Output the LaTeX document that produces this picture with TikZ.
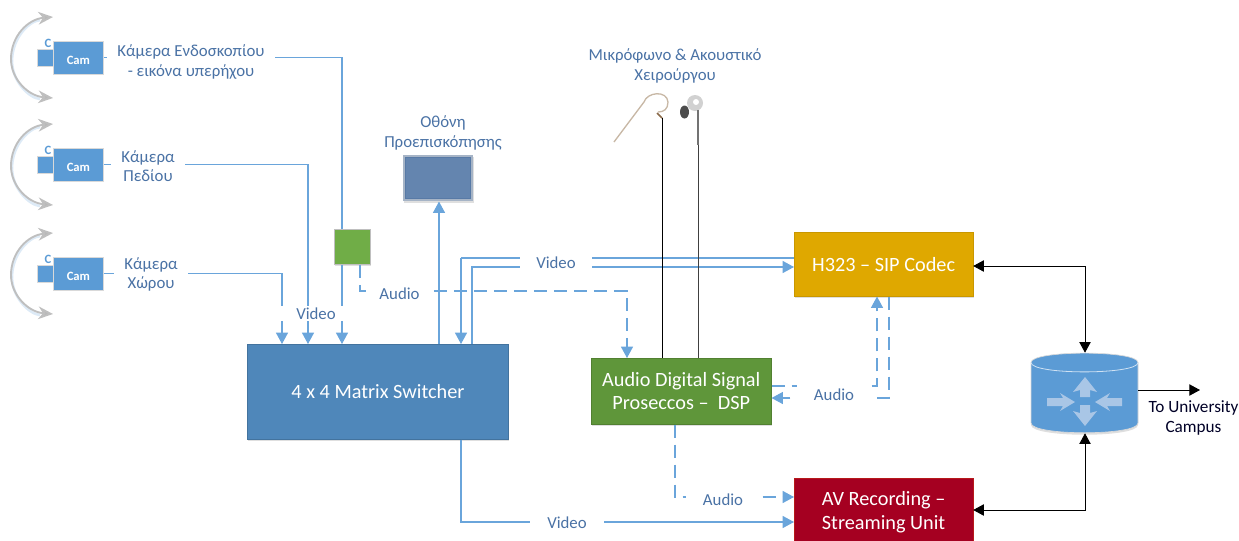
\documentclass[tikz,border=0pt]{standalone}
\usepackage{fontspec}
\setmainfont{Carlito}
\usetikzlibrary{arrows.meta,shapes.geometric,calc,shadows}
\definecolor{wire}{HTML}{6AA5DB}
\definecolor{wirelt}{HTML}{9DC3E6}
\definecolor{lbl}{HTML}{4A72A5}
\definecolor{matrixblue}{HTML}{4F87BA}
\definecolor{dspgreen}{HTML}{5F963A}
\definecolor{smallgreen}{HTML}{70AD47}
\definecolor{codecgold}{HTML}{DFA800}
\definecolor{avred}{HTML}{A50021}
\definecolor{monitorblue}{HTML}{6485AF}
\definecolor{monitoredge}{HTML}{587AA6}
\definecolor{monitorframe}{HTML}{A6B4C6}
\definecolor{routerblue}{HTML}{5B9BD5}
\definecolor{routerarrow}{HTML}{A9C6E6}
\definecolor{hooktan}{HTML}{C8B8A6}
\definecolor{hookbrown}{HTML}{8A6A4A}
\tikzset{
  x=0.75pt,y=-0.75pt,
  softshadow/.style={drop shadow={opacity=0.25,shadow xshift=0.6pt,shadow yshift=-1pt}},
  labplain/.style={font=\fontsize{12.6}{14.4}\selectfont,text=lbl,align=center,inner sep=0pt},
  lab/.style={labplain,fill=white},
  wirelabel/.style={labplain,fill=white},
  blockbox/.style={anchor=north west,inner sep=0pt,text=white,align=center,font=\fontsize{15.2}{17.5}\selectfont,minimum width=#1,softshadow},
  vid/.style={draw=wire,line width=0.8pt,-{Triangle[length=8.5pt,width=9pt]}},
  vidn/.style={draw=wire,line width=0.8pt},
  aud/.style={draw=wire,line width=0.8pt,dash pattern=on 10pt off 5pt,-{Triangle[length=8.5pt,width=9pt,sep=0pt]}},
  blk/.style={draw=black,line width=0.7pt,{Triangle[length=8pt,width=8.5pt]}-{Triangle[length=8pt,width=8.5pt]}},
  swing/.style={draw=black!25,line width=1.4pt,-{Stealth[length=11pt,width=9.5pt,inset=3.5pt,fill=black!28]}},
  swingglow/.style={draw=wirelt,line width=2pt,opacity=0.35},
  cambody/.style={draw=black!15,line width=0.6pt,fill=routerblue,inner sep=0pt,text=white,font=\fontsize{9.5}{10}\selectfont\bfseries,softshadow},
}
\begin{document}
\begin{tikzpicture}
\useasboundingbox (0,0) rectangle (1239,540);
% helper columns and rows
\foreach \v in {282,308,342,360,439,461,472,627,662,675,698,877,889,1085}{\coordinate (x\v) at (\v,0);}
\foreach \v in {57,165,272,258,267,291,386,398,497,522,266,510,390}{\coordinate (y\v) at (0,\v);}
% blocks
\node[draw=matrixblue!85!black,fill=matrixblue,blockbox=196pt,minimum height=71.25pt] (matrix) at (247,344) {4 x 4 Matrix Switcher};
\node[draw=dspgreen!85!black,fill=dspgreen,blockbox=135pt,minimum height=49.5pt] (dsp) at (591,358) {Audio Digital Signal\\Proseccos --\ \ DSP};
\node[draw=codecgold!90!black,fill=codecgold,blockbox=134pt,minimum height=48pt] (codec) at (794,232) {H323 -- SIP Codec};
\node[draw=avred!80!orange,fill=avred,blockbox=134pt,minimum height=51pt] (av) at (794,478) {AV Recording --\\Streaming Unit};
\node[draw=black!25,fill=smallgreen,anchor=north west,minimum width=27pt,minimum height=26.5pt,inner sep=0pt,softshadow] (sg) at (334,229) {};
\node[fill=monitorframe,anchor=north west,minimum width=52.5pt,minimum height=34.5pt,inner sep=0pt,softshadow] (monframe) at (403,155) {};
\node[draw=monitoredge,line width=0.8pt,fill=monitorblue,minimum width=49pt,minimum height=31pt,inner sep=0pt] (mon) at (monframe.center) {};
% cameras
\foreach \n/\y in {a/41,b/148,c/257}{
  \node[cambody,anchor=north west,minimum width=13pt,minimum height=12.5pt] (\n back) at (37,\y+8) {};
  \node[anchor=south,inner sep=0pt,text=routerblue,font=\fontsize{9.5}{10}\selectfont\bfseries] (\n C) at (48,\y+7) {C};
  \node[cambody,anchor=north west,minimum width=37.5pt,minimum height=24.5pt] (\n cam) at (53,\y) {\raisebox{-4.9pt}[0pt][0pt]{Cam}};
  \coordinate (\n t) at (53,\y-24);
  \coordinate (\n b) at (53,\y+57);
  \draw[swingglow] (12,\y+20) .. controls (12,\y-3) and (29,\y-20) .. (40,\y-21);
  \draw[swingglow] (12,\y+20) .. controls (12,\y+40) and (29,\y+57) .. (40,\y+58);
  \draw[swing] (11,\y+18) .. controls (11,\y-5) and (28,\y-22) .. (\n t);
  \draw[swing] (11,\y+18) .. controls (11,\y+38) and (28,\y+55) .. (\n b);
}
% router
\node[minimum width=80pt,minimum height=60pt,inner sep=0pt] (router) at (1084.5,393) {};
\path[fill=routerblue,draw=black!15,line width=0.5pt,drop shadow={opacity=0.25,shadow xshift=0pt,shadow yshift=-1.5pt}] (1031,362.5) .. controls (1031,350) and (1138,350) .. (1138,362.5) -- (1138,423) .. controls (1138,436) and (1031,436) .. (1031,423) -- cycle;
\draw[white!70!routerblue,line width=0.6pt] (1031,362.5) .. controls (1031,375) and (1138,375) .. (1138,362.5);
\fill[routerarrow] (1085,377) -- (1097,392) -- (1090,390) -- (1090,397) -- (1080,397) -- (1080,390) -- (1073,392) -- cycle;
\fill[routerarrow] (1085,426) -- (1097,411) -- (1090,413) -- (1090,405) -- (1080,405) -- (1080,413) -- (1073,411) -- cycle;
\fill[routerarrow] (1075,402) -- (1060,393) -- (1063,398) -- (1047,398) -- (1047,406) -- (1063,406) -- (1060,411) -- cycle;
\fill[routerarrow] (1095,402) -- (1110,393) -- (1107,398) -- (1122,398) -- (1122,406) -- (1107,406) -- (1110,411) -- cycle;
% camera wires
\draw[vid] (ccam.east) -- (ccam.east -| x282) -- (matrix.north -| x282);
\draw[vid] (bcam.east) -- (bcam.east -| x308) -- (matrix.north -| x308);
\draw[vidn] (acam.east) -- (acam.east -| x342) -- (sg.north -| x342);
\draw[vid] (sg.south -| x342) -- (matrix.north -| x342);
\node[wirelabel,minimum width=56pt,minimum height=11pt] (vlab) at (316,313.5) {Video};
\node[lab,minimum width=126pt] (lcam1) at (191,62) {Κάμερα Ενδοσκοπίου\\- εικόνα υπερήχου};
\node[lab,minimum width=55pt] (lcam2) at (148,166) {Κάμερα\\Πεδίου};
\node[lab,minimum width=55pt] (lcam3) at (151,274.5) {Κάμερα\\Χώρου};
% monitor
\draw[vid] (matrix.north -| x439) -- (monframe.south -| x439);
\node[labplain,font=\fontsize{12.6}{15.5}\selectfont] (lmon) at (443,133) {Οθόνη\\Προεπισκόπησης};
\node[labplain,font=\fontsize{12.6}{15}\selectfont] (lmic) at (675,66) {Μικρόφωνο \& Ακουστικό\\Χειρούργου};
% codec video
\draw[vid,-] (codec.west |- y258) -- (x461 |- y258);
\draw[vid] (x461 |- y258) -- (matrix.north -| x461);
\draw[vid] (matrix.north -| x472) -- (x472 |- y267) -- (codec.west |- y267);
\node[wirelabel,minimum width=54pt,minimum height=18pt] (lv2) at (556,263) {Video};
% audio small green to DSP
\draw[aud] (sg.south -| x360) -- (x360 |- y291) -- (x627 |- y291) -- (dsp.north -| x627);
\node[wirelabel,minimum width=50pt,minimum height=16pt] (la1) at (399.5,294) {Audio};
% DSP codec
\draw[aud] (dsp.east |- y386) -- (x877 |- y386) -- (codec.south -| x877);
\draw[aud] (codec.south -| x889) -- (x889 |- y398) -- (dsp.east |- y398);
\node[wirelabel,minimum width=55pt,minimum height=26pt] (la2) at (834,395) {Audio};
% DSP AV
\draw[aud] (dsp.south -| x675) -- (x675 |- y497) -- (av.west |- y497);
\node[wirelabel,minimum width=55pt,minimum height=15pt] (la3) at (723,500) {Audio};
% matrix AV
\draw[vid] (matrix.south -| x461) -- (x461 |- y522) -- (av.west |- y522);
\node[wirelabel,minimum width=55pt,minimum height=14pt] (lv3) at (567,523) {Video};
% black
\draw[blk] (codec.east |- y266) -- (x1085 |- y266) -- (router.north -| x1085);
\draw[blk] (router.south -| x1085) -- (x1085 |- y510) -- (av.east |- y510);
\coordinate (out) at (1200,390);
\draw[draw=black,line width=0.7pt,-{Triangle[length=8pt,width=8.5pt]}] (router.east |- out) -- (out);
\node[inner sep=0pt,align=center,font=\fontsize{12.9}{14.4}\selectfont,text=black!85!blue] (ltu) at (1193.5,418) {To University\\Campus};
% headset
\coordinate (micend) at (662,118);
\coordinate (earend) at (698,145);
\draw[black,line width=0.75pt] (micend) -- (dsp.north -| micend);
\draw[black!75,line width=0.75pt] (earend) -- (dsp.north -| earend);
\draw[hooktan,line width=1pt] (614,142) -- (644,102) .. controls (647,92) and (667,90) .. (668,102) .. controls (668,109) and (664,112) .. (658,112);
\draw[hookbrown,line width=1.2pt] (657,113) -- (662,118);
\fill[black!18] (695,103) ellipse [x radius=8,y radius=8];
\fill[white] (696,102) ellipse [x radius=3,y radius=3];
\fill[black!70] (684.5,112) ellipse [x radius=4.5,y radius=6.5];
\draw[black!55,line width=1.6pt] (earend) -- (698,110);
\end{tikzpicture}
\end{document}
